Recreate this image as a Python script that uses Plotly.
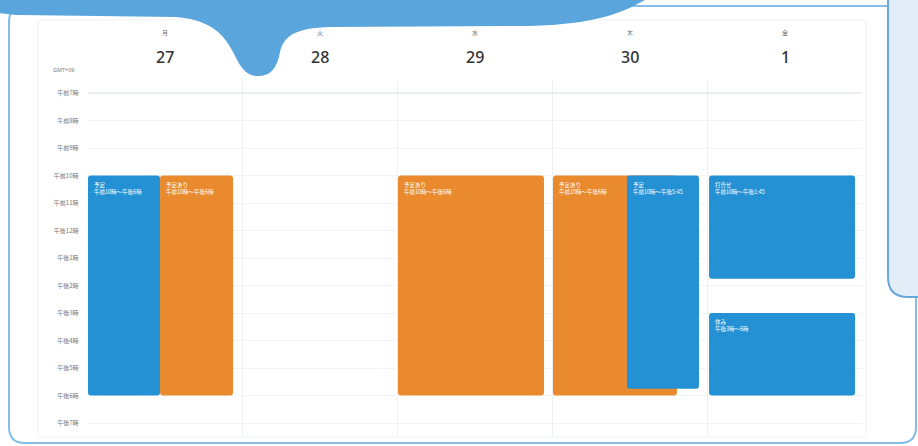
import plotly.graph_objects as go

# ---------------- data ----------------
day_numbers = ["27", "28", "29", "30", "1"]
weekdays = ["月", "火", "水", "木", "金"]
hour_values = [7, 8, 9, 10, 11, 12, 13, 14, 15, 16, 17, 18, 19]
hour_labels = ["午前7時", "午前8時", "午前9時", "午前10時", "午前11時", "午後12時",
               "午後1時", "午後2時", "午後3時", "午後4時", "午後5時", "午後6時", "午後7時"]

event_day = [0, 0, 2, 3, 3, 4, 4]
event_start = [10, 10, 10, 10, 10, 10, 15]
event_end = [18, 18, 18, 18, 17.75, 13.75, 18]
event_kind = ["blue", "orange", "orange", "orange", "blue", "blue", "blue"]
event_title = ["予定", "予定あり", "予定あり", "予定あり", "予定", "打合せ", "休み"]
event_time = ["午前10時～午後6時", "午前10時～午後6時", "午前10時～午後6時",
              "午前10時～午後6時", "午前10時～午後5:45", "午前10時～午後1:45", "午後3時～6時"]
event_offset = [0.003, 0.468, 0.003, 0.003, 0.48, 0.01, 0.01]
event_width = [0.465, 0.471, 0.942, 0.80, 0.465, 0.942, 0.942]

# ---------------- styling ----------------
W, H = 918, 446
COLORS = {"blue": "#2391d3", "orange": "#e88a2d"}
CJK = "Noto Sans CJK JP"

def px(x):
    return x / W

def py(y):
    return 1 - y / H

def path(cmds):
    out = []
    for c in cmds:
        if isinstance(c, str):
            out.append(c)
        else:
            out.append("%.5f,%.5f" % (px(c[0]), py(c[1])))
    return " ".join(out)

plot_left, plot_right = 87.5, 862.5
plot_top, plot_bot = 80, 436
h0_px, px_per_hour = 93, 27.5
y_top = 7 - (h0_px - plot_top) / px_per_hour
y_bot = 7 + (plot_bot - h0_px) / px_per_hour
px_per_day = (plot_right - plot_left) / 5

fig = go.Figure()

for i in range(len(event_day)):
    fig.add_trace(go.Bar(
        x=[event_day[i]], y=[event_end[i] - event_start[i]], base=[event_start[i]],
        width=[event_width[i]], offset=[event_offset[i]],
        marker=dict(color=COLORS[event_kind[i]], line=dict(width=0), cornerradius=3),
        hoverinfo="skip", showlegend=False,
    ))
    fig.add_annotation(
        x=event_day[i] + event_offset[i] + 4 / px_per_day,
        y=event_start[i] + 3 / px_per_hour,
        xref="x", yref="y", xanchor="left", yanchor="top",
        text=event_title[i] + "<br>" + event_time[i], showarrow=False, align="left",
        font=dict(family=CJK, size=5.5, color="white"),
    )

# header: weekday + date
for i in range(len(day_numbers)):
    fig.add_annotation(x=i + 0.5, y=py(33), xref="x", yref="paper", text=weekdays[i],
                       xanchor="center", yanchor="middle",
                       showarrow=False, font=dict(family=CJK, size=6, color="#666"))
    fig.add_annotation(x=i + 0.5, y=py(57), xref="x", yref="paper", text=day_numbers[i],
                       xanchor="center", yanchor="middle",
                       showarrow=False,
                       font=dict(family="Noto Sans", size=16, color="#333", weight=500))

fig.add_annotation(x=px(77), y=py(70), xref="paper", yref="paper", text="GMT+09",
                   xanchor="right", yanchor="middle", showarrow=False,
                   font=dict(family="Noto Sans", size=5.5, color="#777"))

shapes = []
# card
shapes.append(dict(type="path", xref="paper", yref="paper", layer="below",
                   path=path(["M", (25, 6), "L", (900, 6), "Q", (916, 6), (916, 22), "L", (916, 427),
                              "Q", (916, 443), (900, 443), "L", (25, 443), "Q", (9, 443), (9, 427),
                              "L", (9, 22), "Q", (9, 6), (25, 6), "Z"]),
                   fillcolor="white", line=dict(color="#86bde6", width=2)))
# faint inner panel
shapes.append(dict(type="rect", xref="paper", yref="paper", layer="below",
                   x0=px(38), x1=px(866), y0=py(437), y1=py(20),
                   fillcolor="rgba(0,0,0,0)", line=dict(color="#eef1f5", width=1)))
# top hour line stronger
shapes.append(dict(type="line", xref="x", yref="y", x0=0, x1=5, y0=7, y1=7,
                   line=dict(color="#dfe3e8", width=1.2)))
# right panel
shapes.append(dict(type="path", xref="paper", yref="paper", layer="above",
                   path=path(["M", (888, -5), "L", (888, 277), "Q", (888, 297), (908, 297),
                              "L", (925, 297), "L", (925, -5), "Z"]),
                   fillcolor="#e3edf8", line=dict(color="#68a9dd", width=2)))
# blue blob
shapes.append(dict(type="path", xref="paper", yref="paper", layer="above",
                   path=path(["M", (-5, -5), "L", (650, -5), "L", (645, 0),
                              "C", (620, 14), (595, 24), (530, 26),
                              "L", (330, 27),
                              "C", (295, 28), (284, 36), (280, 52),
                              "C", (277, 68), (271, 76), (258, 76),
                              "C", (245, 76), (240, 66), (233, 52),
                              "C", (222, 30), (205, 19), (175, 17),
                              "L", (20, 15),
                              "C", (10, 15), (5, 13), (-5, 13), "Z"]),
                   fillcolor="#5aa6dc", line=dict(width=0)))

fig.update_layout(
    width=W, height=H, margin=dict(l=0, r=0, t=0, b=0),
    paper_bgcolor="white", plot_bgcolor="rgba(0,0,0,0)",
    barmode="overlay", showlegend=False, shapes=shapes,
    xaxis=dict(domain=[px(plot_left), px(plot_right)], range=[0, 5],
               tickvals=[0, 1, 2, 3, 4, 5], showticklabels=False, ticks="",
               showgrid=True, gridcolor="#edf0f4", gridwidth=1, zeroline=False, showline=False,
               fixedrange=True),
    yaxis=dict(domain=[py(plot_bot), py(plot_top)], range=[y_bot, y_top],
               tickvals=hour_values, ticktext=hour_labels, ticks="", ticklabelstandoff=8,
               tickfont=dict(family=CJK, size=6, color="#777"),
               showgrid=True, gridcolor="#f3f4f6", gridwidth=1, zeroline=False, showline=False,
               fixedrange=True),
)

fig.write_html("out.html", config={"displayModeBar": False},
               post_script="document.body.style.margin='0';document.body.style.overflow='hidden';")
